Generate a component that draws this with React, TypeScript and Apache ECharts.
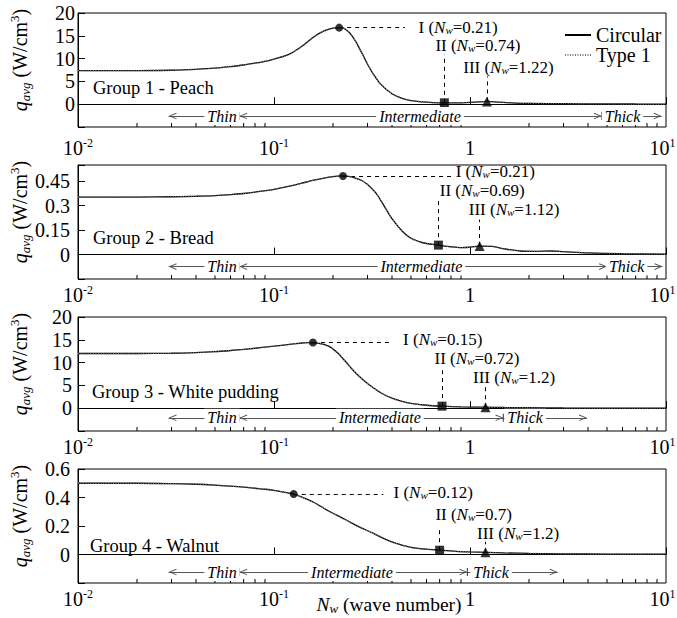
import React, { useEffect, useRef } from 'react';
import * as echarts from 'echarts';

const FONT = "'Liberation Serif', 'Times New Roman', serif";

// ---------- data ----------
const nw1 = [0.01, 0.02, 0.03, 0.04, 0.05, 0.06, 0.07, 0.08, 0.09, 0.1, 0.12, 0.14, 0.16, 0.18, 0.2, 0.22, 0.24, 0.26, 0.28, 0.3, 0.32, 0.35, 0.4, 0.45, 0.5, 0.6, 0.7, 0.8, 0.9, 1.0, 1.1, 1.22, 1.4, 1.7, 2, 3, 5, 7, 10];
const circ1 = [7.35, 7.38, 7.45, 7.65, 7.9, 8.25, 8.6, 9.0, 9.4, 9.9, 11.0, 12.8, 14.8, 16.1, 16.7, 16.8, 15.9, 13.9, 11.3, 8.8, 6.7, 4.4, 2.3, 1.3, 0.8, 0.45, 0.3, 0.28, 0.3, 0.38, 0.5, 0.6, 0.45, 0.25, 0.18, 0.12, 0.06, 0.04, 0.03];

const nw2 = [0.01, 0.02, 0.03, 0.04, 0.05, 0.06, 0.07, 0.08, 0.09, 0.1, 0.12, 0.14, 0.16, 0.18, 0.2, 0.22, 0.24, 0.26, 0.28, 0.3, 0.33, 0.36, 0.4, 0.45, 0.5, 0.55, 0.6, 0.69, 0.8, 0.9, 1.0, 1.12, 1.3, 1.5, 1.8, 2.2, 2.6, 3, 4, 6, 10];
const circ2 = [0.353, 0.353, 0.355, 0.358, 0.362, 0.368, 0.375, 0.383, 0.392, 0.40, 0.42, 0.44, 0.457, 0.47, 0.479, 0.483, 0.48, 0.47, 0.455, 0.43, 0.38, 0.31, 0.22, 0.145, 0.10, 0.08, 0.068, 0.058, 0.048, 0.043, 0.045, 0.052, 0.05, 0.035, 0.022, 0.02, 0.022, 0.018, 0.01, 0.005, 0.002];

const nw3 = [0.01, 0.02, 0.03, 0.04, 0.05, 0.06, 0.07, 0.08, 0.09, 0.1, 0.12, 0.14, 0.15, 0.17, 0.19, 0.21, 0.23, 0.25, 0.27, 0.3, 0.35, 0.4, 0.45, 0.5, 0.6, 0.72, 0.9, 1.2, 1.5, 2, 3, 5, 10];
const circ3 = [12.0, 12.0, 12.05, 12.2, 12.4, 12.65, 12.9, 13.15, 13.4, 13.6, 14.0, 14.3, 14.4, 14.2, 13.6, 12.2, 10.4, 8.6, 7.1, 5.4, 3.4, 2.2, 1.5, 1.05, 0.65, 0.45, 0.3, 0.22, 0.15, 0.1, 0.05, 0.02, 0.01];

const nw4 = [0.01, 0.02, 0.03, 0.04, 0.05, 0.06, 0.07, 0.08, 0.09, 0.1, 0.11, 0.126, 0.14, 0.16, 0.19, 0.22, 0.25, 0.28, 0.32, 0.36, 0.42, 0.5, 0.6, 0.7, 0.85, 1.0, 1.2, 1.5, 2, 3, 5, 10];
const circ4 = [0.50, 0.50, 0.497, 0.493, 0.487, 0.48, 0.473, 0.465, 0.458, 0.45, 0.44, 0.424, 0.40, 0.365, 0.305, 0.26, 0.22, 0.185, 0.15, 0.115, 0.078, 0.05, 0.037, 0.03, 0.022, 0.018, 0.015, 0.011, 0.008, 0.005, 0.003, 0.002];

// Type 1 coincides with Circular within the line width in the reference
const type1_1 = circ1;
const type1_2 = circ2;
const type1_3 = circ3;
const type1_4 = circ4;

// marked points I, II, III
const markN1 = [0.215, 0.74, 1.22];
const markQ1 = [16.8, 0.3, 0.6];
const markN2 = [0.225, 0.69, 1.12];
const markQ2 = [0.482, 0.058, 0.052];
const markN3 = [0.158, 0.72, 1.2];
const markQ3 = [14.4, 0.45, 0.22];
const markN4 = [0.126, 0.7, 1.2];
const markQ4 = [0.424, 0.03, 0.015];

const markLabelNw = [
  ['0.21', '0.74', '1.22'],
  ['0.21', '0.69', '1.12'],
  ['0.15', '0.72', '1.2'],
  ['0.12', '0.7', '1.2'],
];
const roman = ['I', 'II', 'III'];

const groupNames = ['Group 1 - Peach', 'Group 2 - Bread', 'Group 3 - White pudding', 'Group 4 - Walnut'];

// regime boundaries (wave number)
const thinTip = [0.029, 0.029, 0.029, 0.029];
const thinBar = [0.0665, 0.0665, 0.0665, 0.0665];
const thickBar = [4.7, 5.0, 1.48, 0.97];
const thickTip = [9.5, 9.6, 3.95, 2.8];
const regimeNames = ['Thin', 'Intermediate', 'Thick'];

// tick labels
const xTickValues = [0.01, 0.1, 1, 10];
const xTickLabels = ['{b|10}{sup|-2}', '{b|10}{sup|-1}', '{b|1}', '{b|10}{sup|1}{sp|}'];
const xMinorTicks = [0.02, 0.03, 0.04, 0.05, 0.06, 0.07, 0.08, 0.09, 0.2, 0.3, 0.4, 0.5, 0.6, 0.7, 0.8, 0.9, 2, 3, 4, 5, 6, 7, 8, 9];
const yTickLabels = [
  ['0', '5', '10', '15', '20'],
  ['0', '0.15', '0.3', '0.45'],
  ['0', '5', '10', '15', '20'],
  ['0', '0.2', '0.4', '0.6'],
];

// ---------- layout ----------
const yMin = [-5, -0.15, -5, -0.2];
const yMax = [20, 0.55, 20, 0.6];
const yInterval = [5, 0.15, 5, 0.2];
const yLabelMargin = [3, 8, 6, 8];
const xLabelMargin = [10, 5, 5, 5];
const gridTop = [13, 165, 317, 469];
const groupPos = [[93, 88], [93, 238], [92, 392], [90, 546]];
const regimeY = [-2.6, -0.074, -2.1, -0.123];
const regimeLabelN = [
  [0.0543, 0.556, 6.0],
  [0.0543, 0.565, 6.3],
  [0.0543, 0.347, 1.91],
  [0.0543, 0.25, 1.28],
];
const hlineEnd = [0.466, 0.822, 0.391, 0.361];
const vlineTop = [[10.9, 6.1], [0.34, 0.215], [8.3, 4.6], [0.195, 0.09]];
const markLabelPos = [
  [[0.543, 16.9], [0.662, 12.8], [0.918, 8]],
  [[0.84, 0.51], [0.697, 0.395], [0.98, 0.275]],
  [[0.453, 15.1], [0.655, 11.0], [1.03, 6.8]],
  [[0.405, 0.435], [0.662, 0.28], [1.08, 0.145]],
];

const CORNERS = 'M0,0L0.01,0L0,0.01Z M16,16L15.99,16L16,15.99Z ';
const CHEV = 'M8,8L11.3,15.7L10.4,16L8,10.3L5.6,16L4.7,15.7Z';
const CHEVRON = 'path://' + CORNERS + CHEV;
const BARCHEV = 'path://' + CORNERS + CHEV + ' M4,7.4L12,7.4L12,8.6L4,8.6Z';

const pts = (xs: number[], ys: number[]) => xs.map((x, k) => [x, ys[k]]);

const NW = [nw1, nw2, nw3, nw4];
const CIRC = [circ1, circ2, circ3, circ4];
const TYPE1 = [type1_1, type1_2, type1_3, type1_4];
const MN = [markN1, markN2, markN3, markN4];
const MQ = [markQ1, markQ2, markQ3, markQ4];

const annRich = {
  n: { fontSize: 17, fontFamily: FONT, color: '#000', lineHeight: 16 },
  i: { fontSize: 17, fontFamily: FONT, fontStyle: 'italic', color: '#000', lineHeight: 16 },
  s: { fontSize: 11, fontFamily: FONT, fontStyle: 'italic', color: '#000', lineHeight: 6, verticalAlign: 'bottom' },
};

function buildOption() {
  const grid: any[] = [];
  const xAxis: any[] = [];
  const yAxis: any[] = [];
  const series: any[] = [];

  for (let i = 0; i < 4; i++) {
    grid.push({
      left: 78, right: 11, top: gridTop[i], height: 114,
      containLabel: false, outerBoundsMode: 'none',
      show: true, borderColor: '#000', borderWidth: 1, backgroundColor: 'transparent',
    });
    xAxis.push({
      type: 'log', logBase: 10, gridIndex: i, min: 0.01, max: 10,
      axisLine: { lineStyle: { color: '#000', width: 1 } },
      axisTick: { inside: true, length: 7, lineStyle: { color: '#000', width: 1 } },
      splitLine: { show: false },
      axisLabel: {
        margin: xLabelMargin[i],
        color: '#000',
        fontFamily: FONT,
        fontSize: 20,
        formatter: (v: number) => {
          const k = xTickValues.findIndex((t) => Math.abs(Math.log10(v) - Math.log10(t)) < 1e-6);
          return k >= 0 ? xTickLabels[k] : '';
        },
        rich: {
          b: { fontSize: 20, fontFamily: FONT, color: '#000', lineHeight: 22 },
          sup: { fontSize: 12, fontFamily: FONT, color: '#000', lineHeight: 8, verticalAlign: 'top' },
          sp: { width: 7, lineHeight: 22 },
        },
      },
    });
    yAxis.push({
      type: 'value', gridIndex: i, min: yMin[i], max: yMax[i], interval: yInterval[i],
      axisLine: { show: true, lineStyle: { color: '#000', width: 1 } },
      axisTick: { show: true, inside: true, length: 7, lineStyle: { color: '#000', width: 1 } },
      splitLine: { show: false },
      axisLabel: {
        margin: yLabelMargin[i],
        color: '#000',
        fontFamily: FONT,
        fontSize: 20,
        formatter: (v: number) => {
          const s = String(+(+v).toFixed(2));
          return yTickLabels[i].includes(s) ? s : '';
        },
      },
      name: '{q|q}{s|avg}{n| (W/cm}{p|3}{n|)}',
      nameLocation: 'middle',
      nameRotate: 90,
      nameGap: 46,
      nameMoveOverlap: false,
      nameTextStyle: {
        padding: [0, 0, 0, 20],
        rich: {
          q: { fontSize: 20, fontFamily: FONT, fontStyle: 'italic', color: '#000', lineHeight: 24 },
          s: { fontSize: 13, fontFamily: FONT, fontStyle: 'italic', color: '#000', lineHeight: 10, verticalAlign: 'bottom' },
          n: { fontSize: 20, fontFamily: FONT, color: '#000', lineHeight: 24 },
          p: { fontSize: 13, fontFamily: FONT, color: '#000', lineHeight: 10, verticalAlign: 'top' },
        },
      },
    });

    series.push({
      name: 'Circular', type: 'line', xAxisIndex: i, yAxisIndex: i,
      data: pts(NW[i], CIRC[i]), symbol: 'none', smooth: 0.3,
      lineStyle: { color: '#000', width: 1.3 }, itemStyle: { color: '#000' }, z: 2,
    });
    series.push({
      name: 'Type 1', type: 'line', xAxisIndex: i, yAxisIndex: i,
      data: pts(NW[i], TYPE1[i]), symbol: 'none', smooth: 0.3,
      lineStyle: { color: '#777', width: 1.3, type: [1, 1.5] }, itemStyle: { color: '#777' }, z: 3,
    });

    const mn = MN[i];
    const mq = MQ[i];
    const dashed = { type: [4, 4], color: '#000', width: 1 };
    const solid = { type: 'solid', color: '#555', width: 1 };
    const ry = regimeY[i];
    const markLineData: any[] = [
      [{ coord: [mn[0], mq[0]], lineStyle: dashed }, { coord: [hlineEnd[i], mq[0]] }],
      [{ coord: [mn[1], mq[1]], lineStyle: dashed }, { coord: [mn[1], vlineTop[i][0]] }],
      [{ coord: [mn[2], mq[2]], lineStyle: dashed }, { coord: [mn[2], vlineTop[i][1]] }],
      [{ coord: [thinBar[i], ry], lineStyle: solid, symbol: 'none' }, { coord: [thinTip[i], ry], symbol: CHEVRON, symbolSize: 16 }],
      [{ coord: [thinBar[i], ry], lineStyle: solid, symbol: BARCHEV, symbolSize: 16 }, { coord: [thickBar[i], ry], symbol: BARCHEV, symbolSize: 16 }],
      [{ coord: [thickBar[i], ry], lineStyle: solid, symbol: 'none' }, { coord: [thickTip[i], ry], symbol: CHEVRON, symbolSize: 16 }],
    ];
    const markPointData: any[] = [];
    for (let k = 0; k < 3; k++) {
      markPointData.push({
        coord: markLabelPos[i][k],
        label: {
          show: true, position: 'right', distance: 0,
          formatter: `{n|${roman[k]} (}{i|N}{s|w}{n|=${markLabelNw[i][k]})}`,
          rich: annRich,
        },
      });
    }
    for (let k = 0; k < 3; k++) {
      markPointData.push({
        coord: [regimeLabelN[i][k], ry],
        label: {
          show: true, position: 'inside', formatter: regimeNames[k],
          fontSize: 16, fontFamily: FONT, fontStyle: 'italic', color: '#000',
          backgroundColor: '#fff', padding: [1, 3],
        },
      });
    }

    series.push({
      name: 'marks', type: 'scatter', xAxisIndex: i, yAxisIndex: i, z: 4,
      itemStyle: { color: '#000' },
      data: [
        { value: [mn[0], mq[0]], symbol: 'circle', symbolSize: 8 },
        { value: [mn[1], mq[1]], symbol: 'rect', symbolSize: 9 },
        { value: [mn[2], mq[2]], symbol: 'triangle', symbolSize: 10 },
      ],
      markLine: {
        silent: true, z: 3, symbol: ['none', 'none'], label: { show: false },
        lineStyle: { color: '#000', width: 1 },
        emphasis: { disabled: true },
        data: markLineData,
      },
      markPoint: {
        silent: true, z: 6, symbol: 'circle', symbolSize: 1,
        itemStyle: { color: 'rgba(0,0,0,0)' },
        data: markPointData,
      },
    });

    series.push({
      name: 'minor', type: 'custom', xAxisIndex: i, yAxisIndex: i, silent: true, z: 5, clip: false,
      data: xMinorTicks.map((v) => [v, yMin[i]]),
      renderItem: (params: any, api: any) => {
        const p = api.coord([api.value(0), api.value(1)]);
        return {
          type: 'line',
          shape: { x1: p[0], y1: p[1], x2: p[0], y2: p[1] - 4 },
          style: { stroke: '#000', lineWidth: 1 },
        };
      },
    });
  }

  const graphic: any[] = groupNames.map((t, i) => ({
    type: 'text', x: groupPos[i][0], y: groupPos[i][1], silent: true,
    style: { text: t, fontSize: 18.5, fontFamily: FONT, fill: '#000', verticalAlign: 'middle' },
  }));
  graphic.push({
    type: 'text', x: 389, y: 604, silent: true,
    style: {
      text: '{i|N}{s|w}{n| (wave number)}',
      align: 'center', verticalAlign: 'middle', fill: '#000',
      rich: {
        i: { fontSize: 19.5, fontFamily: FONT, fontStyle: 'italic', fill: '#000', lineHeight: 22 },
        s: { fontSize: 13, fontFamily: FONT, fontStyle: 'italic', fill: '#000', lineHeight: 9, verticalAlign: 'bottom' },
        n: { fontSize: 19.5, fontFamily: FONT, fill: '#000', lineHeight: 22 },
      },
    },
  });

  return {
    animation: false,
    backgroundColor: '#fff',
    grid, xAxis, yAxis, series,
    legend: {
      data: ['Circular', 'Type 1'],
      orient: 'vertical', left: 564, top: 25, padding: 0, itemGap: 0,
      itemWidth: 26, itemHeight: 14,
      itemStyle: { opacity: 0 },
      textStyle: { fontSize: 20, fontFamily: FONT, color: '#000' },
      selectedMode: false,
    },
    graphic,
  };
}

export default function App() {
  const ref = useRef<HTMLDivElement>(null);
  useEffect(() => {
    if (!ref.current) return;
    const chart = echarts.init(ref.current, undefined, { renderer: 'svg' });
    chart.setOption(buildOption() as any);
    return () => chart.dispose();
  }, []);
  return (
    <div
      ref={ref}
      style={{ position: 'absolute', left: 0, top: 0, width: 677, height: 618 }}
    />
  );
}
